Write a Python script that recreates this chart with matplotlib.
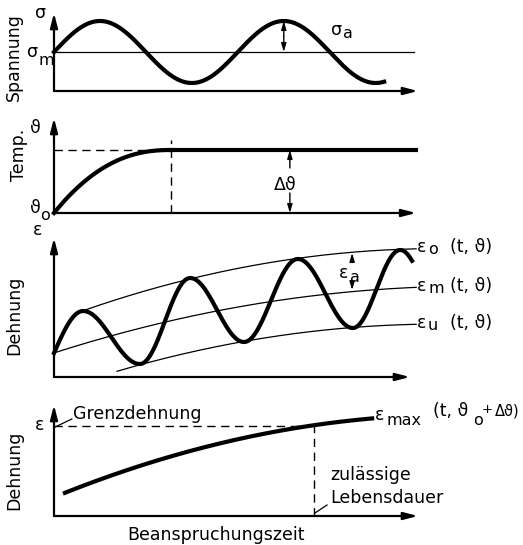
import numpy as np
import matplotlib
matplotlib.use("Agg")
import matplotlib.pyplot as plt

plt.rcParams['font.family'] = 'DejaVu Sans'
FS = 12.5
SUB = 11.5
W, H = 523, 545

# --- Spannung (stress) ---
sigma_mean = 3.9
sigma_amp = 3.1
sigma_period = 5.05
sigma_end = 9.07

# --- Temperatur ---
temp_rise = 6.3      # delta theta
temp_settle = 3.21   # time when steady
temp_shape = 2.3

# --- Dehnung: extrema of the strain wave and envelope curves ---
wave_x = [0.0, 0.80, 2.36, 3.74, 5.22, 6.70, 8.21, 9.51, 10.8]
wave_y = [2.4, 6.6, 1.3, 9.9, 3.5, 11.8, 4.9, 12.7, 5.5]
wave_end = 9.84
upper_x = [0.80, 3.74, 5.11, 6.70, 9.51, 9.95]
upper_y = [6.6, 9.9, 10.9, 11.8, 12.7, 12.9]
mean_x = [0.0, 4.56, 8.27, 9.95]
mean_y = [2.4, 6.7, 8.5, 9.0]
lower_x = [1.73, 2.36, 5.11, 8.21, 9.95]
lower_y = [0.5, 1.3, 3.5, 4.9, 5.3]

# --- Dehnung max over time ---
emax_x = [0.30, 2.17, 4.01, 7.14, 8.74]
emax_y = [2.3, 4.8, 6.8, 9.0, 9.8]
limit_strain = 9.0
life_time = 7.14


def ftext(x, y, s, ha='center', va='baseline', **kw):
    fig.text(x / W, 1 - y / H, s, ha=ha, va=va, fontsize=kw.pop('fontsize', FS), **kw)


def make_ax(top, bottom, xend):
    ax = fig.add_axes([54 / W, 1 - bottom / H, 364 / W, (bottom - top) / H])
    ytop = (bottom - top) / 10
    ax.set_xlim(0, 10)
    ax.set_ylim(0, ytop)
    ax.axis('off')
    st = '-|>,head_length=0.85,head_width=0.22'
    ax.annotate('', xy=(xend, 0), xytext=(0, 0),
                arrowprops=dict(arrowstyle=st, lw=1.6, color='black', shrinkA=0, shrinkB=0))
    ax.annotate('', xy=(0, ytop), xytext=(0, 0),
                arrowprops=dict(arrowstyle=st, lw=1.6, color='black', shrinkA=0, shrinkB=0))
    return ax


def small_arrow(ax, x, y0, y1):
    ax.annotate('', xy=(x, y1), xytext=(x, y0),
                arrowprops=dict(arrowstyle='-|>,head_length=0.5,head_width=0.15',
                                lw=1.0, color='black', shrinkA=0, shrinkB=0))


fig = plt.figure(figsize=(W / 100, H / 100), dpi=100)

# panel 1
ax1 = make_ax(13, 91, 10.0)
t = np.linspace(0, sigma_end, 300)
ax1.plot(t, sigma_mean + sigma_amp * np.sin(2 * np.pi * t / sigma_period), color='black', lw=3, clip_on=False)
ax1.plot([0, 9.89], [sigma_mean, sigma_mean], color='black', lw=0.9)
tp = 5 * sigma_period / 4
small_arrow(ax1, tp, (sigma_mean * 2 + sigma_amp) / 2, sigma_mean + sigma_amp)
small_arrow(ax1, tp, (sigma_mean * 2 + sigma_amp) / 2, sigma_mean)
ftext(41, 18, 'σ')
ftext(33, 57, 'σ')
ftext(38, 65, 'm', ha='left', fontsize=SUB)
ftext(337, 35, 'σ')
ftext(343, 38, 'a', ha='left', fontsize=SUB)
ftext(14, 57, 'Spannung', va='center', rotation=90)

# panel 2
ax2 = make_ax(118, 213, 9.95)
t = np.linspace(0, temp_settle, 200)
ax2.plot(t, temp_rise * (1 - (1 - t / temp_settle) ** temp_shape), color='black', lw=3, clip_on=False)
ax2.plot([temp_settle, 9.95], [temp_rise, temp_rise], color='black', lw=3)
ax2.plot([0, temp_settle], [temp_rise, temp_rise], color='black', lw=1, ls=(0, (6, 4)))
ax2.plot([temp_settle, temp_settle], [0, 7.3], color='black', lw=1, ls=(0, (6, 4)))
small_arrow(ax2, 6.48, 4.5, temp_rise)
small_arrow(ax2, 6.48, 2.0, 0)
ftext(35, 133, 'ϑ')
ftext(35, 213, 'ϑ')
ftext(40, 220, 'o', ha='left', fontsize=SUB)
ftext(19, 155, 'Temp.', va='center', rotation=90)
ftext(285, 190, 'Δϑ')

# panel 3
ax3 = make_ax(238, 377, 9.78)
for xs, ys in [(upper_x, upper_y), (mean_x, mean_y), (lower_x, lower_y)]:
    c = np.polyfit(xs, ys, 2)
    xx = np.linspace(xs[0], xs[-1], 200)
    ax3.plot(xx, np.polyval(c, xx), color='black', lw=0.9)
wx, wy = [], []
for i in range(len(wave_x) - 1):
    x0, x1, y0, y1 = wave_x[i], wave_x[i + 1], wave_y[i], wave_y[i + 1]
    s = np.linspace(0, 1, 80)
    if i == 0:
        shape = np.sin(np.pi / 2 * s)
    else:
        shape = (1 - np.cos(np.pi * s)) / 2
    xx = x0 + (x1 - x0) * s
    yy = y0 + (y1 - y0) * shape
    keep = xx <= wave_end
    wx.extend(xx[keep])
    wy.extend(yy[keep])
ax3.plot(wx, wy, color='black', lw=3, clip_on=False)
small_arrow(ax3, 8.19, 11.5, 12.4)
small_arrow(ax3, 8.19, 9.4, 8.7)
ftext(38, 235, 'ε')
ftext(14, 315, 'Dehnung', va='center', rotation=90)
ftext(344, 278, 'ε')
ftext(350, 282, 'a', ha='left', fontsize=SUB)
for yb, sub in [(252, 'o'), (291, 'm'), (328, 'u')]:
    ftext(422, yb, 'ε')
    ftext(428, yb + 2, sub, ha='left', fontsize=SUB)
    ftext(450, yb, '(t, ϑ)', ha='left')

# panel 4
ax4 = make_ax(405, 516, 10.0)
c = np.polyfit(emax_x, emax_y, 2)
xx = np.linspace(emax_x[0], emax_x[-1], 200)
ax4.plot(xx, np.polyval(c, xx), color='black', lw=3)
ax4.plot([0, life_time], [limit_strain, limit_strain], color='black', lw=1, ls=(0, (6, 4)))
ax4.plot([life_time, life_time], [0, limit_strain], color='black', lw=1, ls=(0, (6, 4)))
ax4.plot([0.03, 0.49], [8.9, 9.7], color='black', lw=0.9, clip_on=False)
ax4.plot([7.17, 7.5], [0.3, 1.1], color='black', lw=0.9, clip_on=False)
ftext(40, 430, 'ε')
ftext(73, 419, 'Grenzdehnung', ha='left')
ftext(380, 420, 'ε')
ftext(386, 425, 'max', ha='left', fontsize=SUB)
ftext(433, 416, '(t, ϑ', ha='left')
ftext(473, 425, 'o', ha='left', fontsize=SUB)
ftext(482, 413, '+', ha='left', fontsize=9.5)
ftext(495, 416, 'Δϑ)', ha='left', fontsize=10.5)
ftext(330, 480, 'zulässige', ha='left')
ftext(330, 503, 'Lebensdauer', ha='left')
ftext(216, 540, 'Beanspruchungszeit')
ftext(14, 470, 'Dehnung', va='center', rotation=90)

fig.savefig('out.png', dpi=100)
